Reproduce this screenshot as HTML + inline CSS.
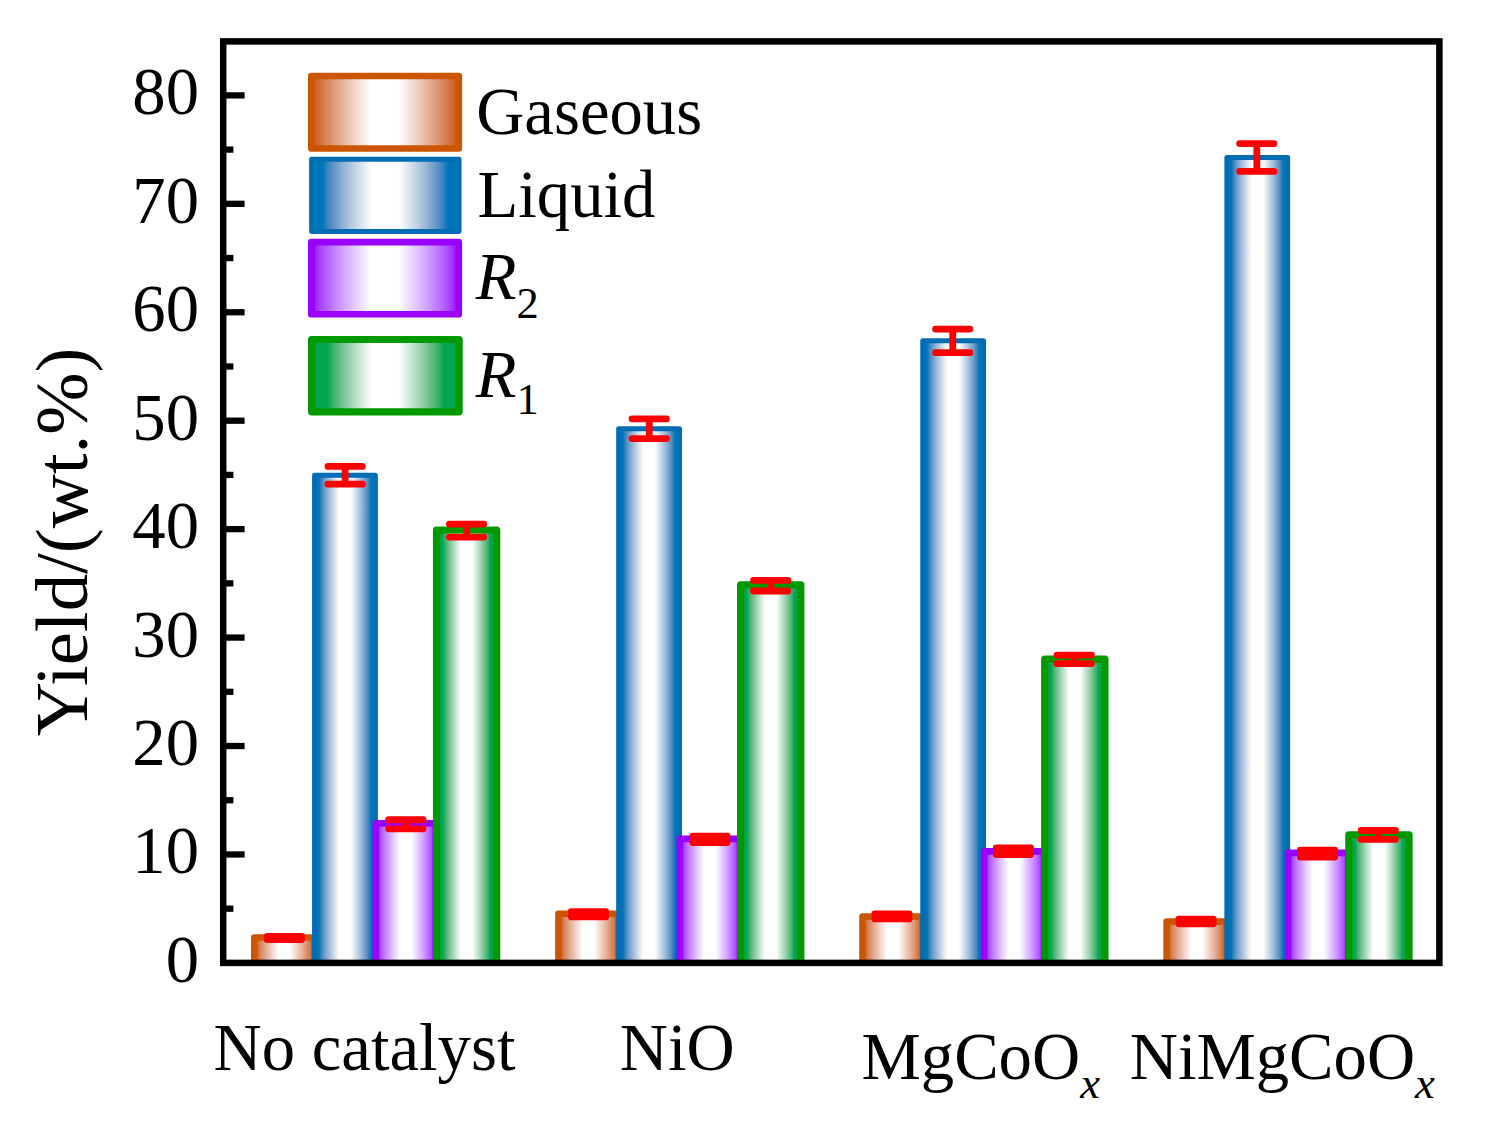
<!DOCTYPE html>
<html lang="en">
<head>
<meta charset="utf-8">
<title>Yield bar chart</title>
<style>
html,body{margin:0;padding:0;background:#fff;}
svg{display:block;}
text{font-family:"Liberation Serif",serif;fill:#000;}
.it{font-style:italic;}
</style>
</head>
<body>
<svg width="1489" height="1129" viewBox="0 0 1489 1129">
<defs>
<linearGradient id="go" x1="0" y1="0" x2="1" y2="0"><stop offset="0.0000" stop-color="#CC5500"/><stop offset="0.0342" stop-color="#D06528"/><stop offset="0.0683" stop-color="#D47543"/><stop offset="0.1025" stop-color="#D8845A"/><stop offset="0.1367" stop-color="#DD9370"/><stop offset="0.1708" stop-color="#E1A284"/><stop offset="0.2050" stop-color="#E5B098"/><stop offset="0.2392" stop-color="#EABEAA"/><stop offset="0.2733" stop-color="#EECBBC"/><stop offset="0.3075" stop-color="#F2D9CE"/><stop offset="0.3417" stop-color="#F6E6DE"/><stop offset="0.3758" stop-color="#FBF2EF"/><stop offset="0.4100" stop-color="#FFFFFF"/><stop offset="0.5900" stop-color="#FFFFFF"/><stop offset="0.6242" stop-color="#FBF2EF"/><stop offset="0.6583" stop-color="#F6E6DE"/><stop offset="0.6925" stop-color="#F2D9CE"/><stop offset="0.7267" stop-color="#EECBBC"/><stop offset="0.7608" stop-color="#EABEAA"/><stop offset="0.7950" stop-color="#E5B098"/><stop offset="0.8292" stop-color="#E1A284"/><stop offset="0.8633" stop-color="#DD9370"/><stop offset="0.8975" stop-color="#D8845A"/><stop offset="0.9317" stop-color="#D47543"/><stop offset="0.9658" stop-color="#D06528"/><stop offset="1.0000" stop-color="#CC5500"/></linearGradient>
<linearGradient id="gb" x1="0" y1="0" x2="1" y2="0"><stop offset="0.0000" stop-color="#0076B9"/><stop offset="0.0770" stop-color="#0076B9"/><stop offset="0.0770" stop-color="#0076B9"/><stop offset="0.1047" stop-color="#3481BE"/><stop offset="0.1325" stop-color="#518DC3"/><stop offset="0.1603" stop-color="#699AC9"/><stop offset="0.1880" stop-color="#7EA6CF"/><stop offset="0.2157" stop-color="#92B2D5"/><stop offset="0.2435" stop-color="#A4BEDB"/><stop offset="0.2712" stop-color="#B5C9E1"/><stop offset="0.2990" stop-color="#C5D5E7"/><stop offset="0.3267" stop-color="#D4DFED"/><stop offset="0.3545" stop-color="#E3EAF3"/><stop offset="0.3822" stop-color="#F1F5F9"/><stop offset="0.4100" stop-color="#FFFFFF"/><stop offset="0.5900" stop-color="#FFFFFF"/><stop offset="0.6178" stop-color="#F1F5F9"/><stop offset="0.6455" stop-color="#E3EAF3"/><stop offset="0.6733" stop-color="#D4DFED"/><stop offset="0.7010" stop-color="#C5D5E7"/><stop offset="0.7288" stop-color="#B5C9E1"/><stop offset="0.7565" stop-color="#A4BEDB"/><stop offset="0.7843" stop-color="#92B2D5"/><stop offset="0.8120" stop-color="#7EA6CF"/><stop offset="0.8397" stop-color="#699AC9"/><stop offset="0.8675" stop-color="#518DC3"/><stop offset="0.8952" stop-color="#3481BE"/><stop offset="0.9230" stop-color="#0076B9"/><stop offset="0.9230" stop-color="#0076B9"/><stop offset="1.0000" stop-color="#0076B9"/></linearGradient>
<linearGradient id="gp" x1="0" y1="0" x2="1" y2="0"><stop offset="0.0000" stop-color="#9900FF"/><stop offset="0.0342" stop-color="#A22BFF"/><stop offset="0.0683" stop-color="#AC47FF"/><stop offset="0.1025" stop-color="#B55FFF"/><stop offset="0.1367" stop-color="#BD74FF"/><stop offset="0.1708" stop-color="#C688FF"/><stop offset="0.2050" stop-color="#CF9BFF"/><stop offset="0.2392" stop-color="#D7AEFF"/><stop offset="0.2733" stop-color="#DFBFFF"/><stop offset="0.3075" stop-color="#E7D0FF"/><stop offset="0.3417" stop-color="#EFE0FF"/><stop offset="0.3758" stop-color="#F7F0FF"/><stop offset="0.4100" stop-color="#FFFFFF"/><stop offset="0.5900" stop-color="#FFFFFF"/><stop offset="0.6242" stop-color="#F7F0FF"/><stop offset="0.6583" stop-color="#EFE0FF"/><stop offset="0.6925" stop-color="#E7D0FF"/><stop offset="0.7267" stop-color="#DFBFFF"/><stop offset="0.7608" stop-color="#D7AEFF"/><stop offset="0.7950" stop-color="#CF9BFF"/><stop offset="0.8292" stop-color="#C688FF"/><stop offset="0.8633" stop-color="#BD74FF"/><stop offset="0.8975" stop-color="#B55FFF"/><stop offset="0.9317" stop-color="#AC47FF"/><stop offset="0.9658" stop-color="#A22BFF"/><stop offset="1.0000" stop-color="#9900FF"/></linearGradient>
<linearGradient id="gg" x1="0" y1="0" x2="1" y2="0"><stop offset="0.0000" stop-color="#00A651"/><stop offset="0.1050" stop-color="#00A651"/><stop offset="0.1050" stop-color="#00A651"/><stop offset="0.1304" stop-color="#29AC60"/><stop offset="0.1558" stop-color="#45B471"/><stop offset="0.1812" stop-color="#5CBB80"/><stop offset="0.2067" stop-color="#72C390"/><stop offset="0.2321" stop-color="#86CA9F"/><stop offset="0.2575" stop-color="#99D2AE"/><stop offset="0.2829" stop-color="#ACD9BC"/><stop offset="0.3083" stop-color="#BDE1CA"/><stop offset="0.3337" stop-color="#CEE9D8"/><stop offset="0.3592" stop-color="#DFF0E5"/><stop offset="0.3846" stop-color="#EFF8F2"/><stop offset="0.4100" stop-color="#FFFFFF"/><stop offset="0.5900" stop-color="#FFFFFF"/><stop offset="0.6154" stop-color="#EFF8F2"/><stop offset="0.6408" stop-color="#DFF0E5"/><stop offset="0.6663" stop-color="#CEE9D8"/><stop offset="0.6917" stop-color="#BDE1CA"/><stop offset="0.7171" stop-color="#ACD9BC"/><stop offset="0.7425" stop-color="#99D2AE"/><stop offset="0.7679" stop-color="#86CA9F"/><stop offset="0.7933" stop-color="#72C390"/><stop offset="0.8187" stop-color="#5CBB80"/><stop offset="0.8442" stop-color="#45B471"/><stop offset="0.8696" stop-color="#29AC60"/><stop offset="0.8950" stop-color="#00A651"/><stop offset="0.8950" stop-color="#00A651"/><stop offset="1.0000" stop-color="#00A651"/></linearGradient>
<clipPath id="plot"><rect x="223.2" y="41.4" width="1216.20" height="921.50"/></clipPath>
</defs>
<rect x="0" y="0" width="1489" height="1129" fill="#fff"/>
<g stroke-linejoin="round" clip-path="url(#plot)">
<rect x="254.28" y="937.60" width="60.20" height="35.30" fill="url(#go)" stroke="#CC5500" stroke-width="6.5"/>
<rect x="314.57" y="475.20" width="60.80" height="497.70" fill="url(#gb)" stroke="#006DB5" stroke-width="5.0"/>
<rect x="375.77" y="823.40" width="60.20" height="149.50" fill="url(#gp)" stroke="#9900FF" stroke-width="6.7"/>
<rect x="436.52" y="530.00" width="60.20" height="442.90" fill="url(#gg)" stroke="#009900" stroke-width="7.2"/>
<rect x="558.38" y="913.70" width="60.20" height="59.20" fill="url(#go)" stroke="#CC5500" stroke-width="6.5"/>
<rect x="618.67" y="428.80" width="60.80" height="544.10" fill="url(#gb)" stroke="#006DB5" stroke-width="5.0"/>
<rect x="679.88" y="838.90" width="60.20" height="134.00" fill="url(#gp)" stroke="#9900FF" stroke-width="6.7"/>
<rect x="740.62" y="584.90" width="60.20" height="388.00" fill="url(#gg)" stroke="#009900" stroke-width="7.2"/>
<rect x="862.48" y="916.50" width="60.20" height="56.40" fill="url(#go)" stroke="#CC5500" stroke-width="6.5"/>
<rect x="922.77" y="340.70" width="60.80" height="632.20" fill="url(#gb)" stroke="#006DB5" stroke-width="5.0"/>
<rect x="983.98" y="851.40" width="60.20" height="121.50" fill="url(#gp)" stroke="#9900FF" stroke-width="6.7"/>
<rect x="1044.73" y="659.20" width="60.20" height="313.70" fill="url(#gg)" stroke="#009900" stroke-width="7.2"/>
<rect x="1166.58" y="921.60" width="60.20" height="51.30" fill="url(#go)" stroke="#CC5500" stroke-width="6.5"/>
<rect x="1226.88" y="157.60" width="60.80" height="815.30" fill="url(#gb)" stroke="#006DB5" stroke-width="5.0"/>
<rect x="1288.08" y="852.90" width="60.20" height="120.00" fill="url(#gp)" stroke="#9900FF" stroke-width="6.7"/>
<rect x="1348.83" y="834.80" width="60.20" height="138.10" fill="url(#gg)" stroke="#009900" stroke-width="7.2"/>
</g>
<g stroke="#FF0000" stroke-width="6.8" stroke-linecap="round" fill="none">
<path d="M267.18 936.30H301.57M267.18 939.60H301.57M284.38 936.30V939.60"/>
<path d="M327.93 466.40H362.32M327.93 484.20H362.32M345.12 466.40V484.20"/>
<path d="M388.68 819.75H423.07M388.68 828.85H423.07M405.88 819.75V828.85"/>
<path d="M449.43 524.10H483.82M449.43 537.10H483.82M466.62 524.10V537.10"/>
<path d="M571.27 911.65H605.68M571.27 916.75H605.68M588.48 911.65V916.75"/>
<path d="M632.02 418.85H666.43M632.02 438.55H666.43M649.23 418.85V438.55"/>
<path d="M692.77 836.10H727.18M692.77 842.50H727.18M709.98 836.10V842.50"/>
<path d="M753.52 580.40H787.93M753.52 591.00H787.93M770.73 580.40V591.00"/>
<path d="M874.77 913.85H909.18M874.77 918.95H909.18M891.98 913.85V918.95"/>
<path d="M935.52 329.05H969.93M935.52 352.55H969.93M952.73 329.05V352.55"/>
<path d="M996.27 847.80H1030.67M996.27 854.60H1030.67M1013.48 847.80V854.60"/>
<path d="M1057.03 655.10H1091.43M1057.03 663.70H1091.43M1074.23 655.10V663.70"/>
<path d="M1178.88 919.25H1213.28M1178.88 923.75H1213.28M1196.08 919.25V923.75"/>
<path d="M1239.62 143.60H1274.03M1239.62 171.40H1274.03M1256.83 143.60V171.40"/>
<path d="M1300.38 850.20H1334.78M1300.38 857.00H1334.78M1317.58 850.20V857.00"/>
<path d="M1361.12 830.50H1395.53M1361.12 839.30H1395.53M1378.33 830.50V839.30"/>
</g>
<rect x="223.2" y="41.4" width="1216.20" height="921.50" fill="none" stroke="#000" stroke-width="6.5"/>
<g stroke="#000" stroke-width="6.3">
<line x1="223.2" y1="908.68" x2="233.4" y2="908.68"/>
<line x1="223.2" y1="854.46" x2="244.6" y2="854.46"/>
<line x1="223.2" y1="800.24" x2="233.4" y2="800.24"/>
<line x1="223.2" y1="746.02" x2="244.6" y2="746.02"/>
<line x1="223.2" y1="691.80" x2="233.4" y2="691.80"/>
<line x1="223.2" y1="637.58" x2="244.6" y2="637.58"/>
<line x1="223.2" y1="583.36" x2="233.4" y2="583.36"/>
<line x1="223.2" y1="529.14" x2="244.6" y2="529.14"/>
<line x1="223.2" y1="474.92" x2="233.4" y2="474.92"/>
<line x1="223.2" y1="420.70" x2="244.6" y2="420.70"/>
<line x1="223.2" y1="366.48" x2="233.4" y2="366.48"/>
<line x1="223.2" y1="312.26" x2="244.6" y2="312.26"/>
<line x1="223.2" y1="258.04" x2="233.4" y2="258.04"/>
<line x1="223.2" y1="203.82" x2="244.6" y2="203.82"/>
<line x1="223.2" y1="149.60" x2="233.4" y2="149.60"/>
<line x1="223.2" y1="95.38" x2="244.6" y2="95.38"/>
</g>
<g font-size="66.7" text-anchor="end">
<text x="199" y="981.90">0</text>
<text x="199" y="873.46">10</text>
<text x="199" y="765.02">20</text>
<text x="199" y="656.58">30</text>
<text x="199" y="548.14">40</text>
<text x="199" y="439.70">50</text>
<text x="199" y="331.26">60</text>
<text x="199" y="222.82">70</text>
<text x="199" y="114.38">80</text>
</g>
<text transform="translate(87.0 736) rotate(-90)" font-size="74.8">Yield/(wt.%)</text>
<g font-size="66.7">
<text x="213.6" y="1070.3">No catalyst</text>
<text x="619.8" y="1070.3">NiO</text>
<text x="861.5" y="1079.1">MgCoO<tspan class="it" font-size="44.5" dy="18.8">x</tspan></text>
<text x="1129.8" y="1079.1">NiMgCoO<tspan class="it" font-size="44.5" dy="18.8">x</tspan></text>
</g>
<g stroke-linejoin="round">
<rect x="311.25" y="76.05" width="147.60" height="72.50" fill="url(#go)" stroke="#CC5500" stroke-width="6.5"/>
<rect x="311.50" y="159.25" width="147.60" height="72.25" fill="url(#gb)" stroke="#006DB5" stroke-width="4.8"/>
<rect x="311.35" y="242.20" width="147.40" height="72.05" fill="url(#gp)" stroke="#9900FF" stroke-width="6.7"/>
<rect x="311.60" y="339.50" width="147.50" height="72.30" fill="url(#gg)" stroke="#009900" stroke-width="7.2"/>
</g>
<g font-size="66.7">
<text x="476.2" y="133.5">Gaseous</text>
<text x="477.6" y="216.6">Liquid</text>
<text x="475.7" y="299.3"><tspan class="it">R</tspan><tspan font-size="44.5" dy="18.6">2</tspan></text>
<text x="475.7" y="397.3"><tspan class="it">R</tspan><tspan font-size="44.5" dy="17.0">1</tspan></text>
</g>
</svg>
</body>
</html>
